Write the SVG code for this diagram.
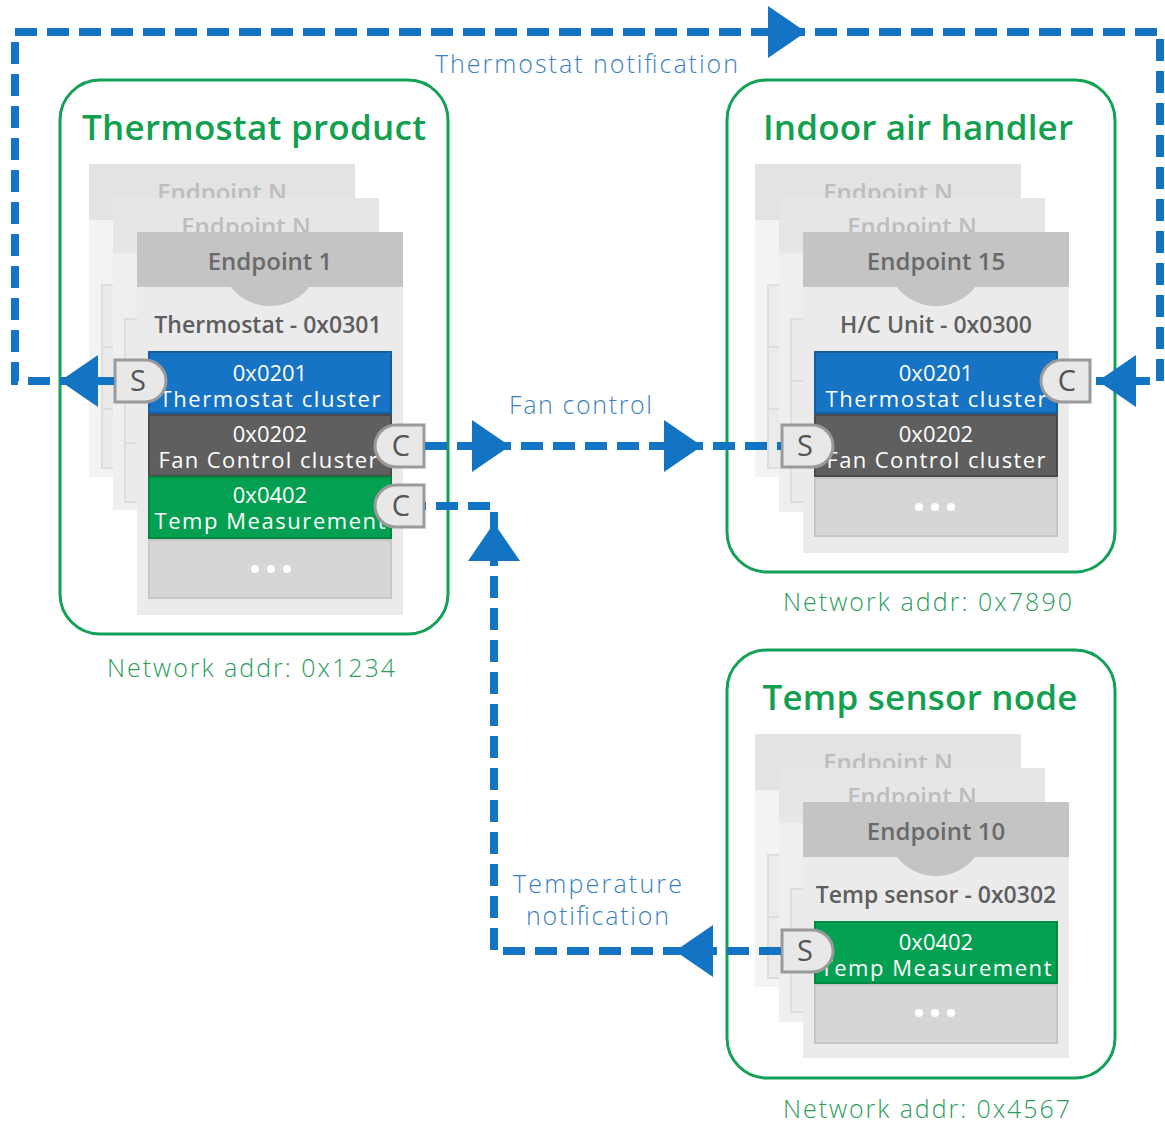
<svg xmlns="http://www.w3.org/2000/svg" width="1165" height="1124" viewBox="0 0 1165 1124">
<style>
.box{fill:none;stroke:#13a155;stroke-width:3}
.title{font-family:"Open Sans","Liberation Sans",sans-serif;font-weight:600;font-size:35px;fill:#12a050;text-anchor:middle}
.l1h{fill:#e3e3e3}.l1b{fill:#f3f3f3}
.l2h{fill:#e6e6e6}.l2b{fill:#efefef}
.fh{fill:#c4c4c4}.fb{fill:#ebebeb}
.strip{fill:#ebebeb;stroke:#dedede;stroke-width:2}
.sep{stroke:#dedede;stroke-width:2}
.ept{font-family:"Open Sans","Liberation Sans",sans-serif;font-weight:600;font-size:24px;fill:#6a6a6a;text-anchor:middle}
.epn{fill:#bdbdbd}
.typ{font-family:"Open Sans","Liberation Sans",sans-serif;font-weight:600;font-size:23px;fill:#5e5e5e;text-anchor:middle}
.cb{fill:#1773c3;stroke:#135fa2;stroke-width:2}
.cg{fill:#5f5f5f;stroke:#4a4a4a;stroke-width:2}
.cn{fill:#04a052;stroke:#03883f;stroke-width:2}
.ct{font-family:"Open Sans","Liberation Sans",sans-serif;font-size:22px;fill:#ffffff;text-anchor:middle}
.dots{fill:#d6d6d6;stroke:#c6c6c6;stroke-width:2}
.dot{fill:#ffffff}
.badge{fill:#e8e8e8;stroke:#9a9a9a;stroke-width:3}
.bt{font-family:"Open Sans","Liberation Sans",sans-serif;font-size:29px;fill:#555555;text-anchor:middle}
.conn{fill:none;stroke:#1474c4;stroke-width:8;stroke-dasharray:22 10}
.ah{fill:#1474c4}
.lbl{font-family:"Open Sans","Liberation Sans",sans-serif;font-weight:300;font-size:25px;fill:#3b7fc0}
.net{font-family:"Open Sans","Liberation Sans",sans-serif;font-weight:300;font-size:25px;fill:#2c9d5a}
</style>
<defs>
<path id="ah" d="M0,0 L-38,-26 L-38,26 Z"/>
</defs>
<rect width="1165" height="1124" fill="#ffffff"/>

<g id="thermostat-product">
<rect class="box" x="60" y="80" width="388" height="554" rx="40"/>
<text class="title" x="254" y="140" textLength="344">Thermostat product</text>
<rect class="l1h" x="89" y="164" width="266" height="56"/>
<rect class="l1b" x="89" y="220" width="266" height="257"/>
<rect class="strip" x="102" y="285" width="242" height="183"/>
<line class="sep" x1="102" y1="347" x2="344" y2="347"/><line class="sep" x1="102" y1="409" x2="344" y2="409"/>
<text class="ept epn" x="222" y="201">Endpoint N</text>
<rect class="l2h" x="113" y="198" width="266" height="55"/>
<rect class="l2b" x="113" y="253" width="266" height="257"/>
<rect class="strip" x="125" y="319" width="242" height="183"/>
<line class="sep" x1="125" y1="381" x2="367" y2="381"/><line class="sep" x1="125" y1="443" x2="367" y2="443"/>
<text class="ept epn" x="246" y="235">Endpoint N</text>
<rect class="fh" x="137" y="232" width="266" height="55"/>
<rect class="fb" x="137" y="287" width="266" height="328"/>
<path class="fh" d="M230,286 A50,50 0 0 0 310,286 Z"/>
<text class="ept" x="270" y="270">Endpoint 1</text>
<text class="typ" x="268" y="333">Thermostat - 0x0301</text>
<rect class="cb" x="149" y="352" width="242" height="61"/>
<text class="ct"><tspan x="270" y="381">0x0201</tspan><tspan x="270" y="407" textLength="221">Thermostat cluster</tspan></text>
<rect class="cg" x="149" y="415" width="242" height="61"/>
<text class="ct"><tspan x="270" y="442">0x0202</tspan><tspan x="268" y="468" textLength="219">Fan Control cluster</tspan></text>
<rect class="cn" x="149" y="477" width="242" height="61"/>
<text class="ct"><tspan x="270" y="503">0x0402</tspan><tspan x="270" y="529" textLength="231">Temp Measurement</tspan></text>
<rect class="dots" x="149" y="540" width="242" height="58"/>
<circle class="dot" cx="255" cy="569" r="4"/><circle class="dot" cx="271" cy="569" r="4"/><circle class="dot" cx="287" cy="569" r="4"/>
<path class="badge" d="M115,360 H145 A21,21 0 0 1 145,402 H115 Z"/>
<text class="bt" x="138" y="391">S</text>
<path class="badge" d="M424,425 H396 A21,21 0 0 0 396,467 H424 Z"/>
<text class="bt" x="401" y="456">C</text>
<path class="badge" d="M424,485 H396 A21,21 0 0 0 396,527 H424 Z"/>
<text class="bt" x="401" y="516">C</text>
<text class="net" x="107" y="677" textLength="288">Network addr: 0x1234</text>
</g>

<g id="indoor-air-handler">
<rect class="box" x="727" y="80" width="388" height="492" rx="40"/>
<text class="title" x="918" y="140" textLength="310">Indoor air handler</text>
<rect class="l1h" x="755" y="164" width="266" height="56"/>
<rect class="l1b" x="755" y="220" width="266" height="257"/>
<rect class="strip" x="768" y="285" width="242" height="183"/>
<line class="sep" x1="768" y1="347" x2="1010" y2="347"/><line class="sep" x1="768" y1="409" x2="1010" y2="409"/>
<text class="ept epn" x="888" y="201">Endpoint N</text>
<rect class="l2h" x="779" y="198" width="266" height="55"/>
<rect class="l2b" x="779" y="253" width="266" height="259"/>
<rect class="strip" x="791" y="319" width="242" height="183"/>
<line class="sep" x1="791" y1="381" x2="1033" y2="381"/><line class="sep" x1="791" y1="443" x2="1033" y2="443"/>
<text class="ept epn" x="912" y="235">Endpoint N</text>
<rect class="fh" x="803" y="232" width="266" height="55"/>
<rect class="fb" x="803" y="287" width="266" height="266"/>
<path class="fh" d="M896,286 A50,50 0 0 0 976,286 Z"/>
<text class="ept" x="936" y="270">Endpoint 15</text>
<text class="typ" x="936" y="333">H/C Unit - 0x0300</text>
<rect class="cb" x="815" y="352" width="242" height="61"/>
<text class="ct"><tspan x="936" y="381">0x0201</tspan><tspan x="936" y="407" textLength="221">Thermostat cluster</tspan></text>
<rect class="cg" x="815" y="415" width="242" height="61"/>
<text class="ct"><tspan x="936" y="442">0x0202</tspan><tspan x="936" y="468" textLength="219">Fan Control cluster</tspan></text>
<rect class="dots" x="815" y="478" width="242" height="58"/>
<circle class="dot" cx="919" cy="507" r="4"/><circle class="dot" cx="935" cy="507" r="4"/><circle class="dot" cx="951" cy="507" r="4"/>
<path class="badge" d="M1090,360 H1062 A21,21 0 0 0 1062,402 H1090 Z"/>
<text class="bt" x="1067" y="391">C</text>
<path class="badge" d="M782,425 H812 A21,21 0 0 1 812,467 H782 Z"/>
<text class="bt" x="805" y="456">S</text>
<text class="net" x="783" y="611" textLength="289">Network addr: 0x7890</text>
</g>

<g id="temp-sensor-node">
<rect class="box" x="727" y="650" width="388" height="428" rx="40"/>
<text class="title" x="920" y="710" textLength="315">Temp sensor node</text>
<rect class="l1h" x="755" y="734" width="266" height="56"/>
<rect class="l1b" x="755" y="790" width="266" height="197"/>
<rect class="strip" x="768" y="855" width="242" height="123"/>
<line class="sep" x1="768" y1="917" x2="1010" y2="917"/>
<text class="ept epn" x="888" y="771">Endpoint N</text>
<rect class="l2h" x="779" y="768" width="266" height="55"/>
<rect class="l2b" x="779" y="823" width="266" height="199"/>
<rect class="strip" x="791" y="889" width="242" height="123"/>
<line class="sep" x1="791" y1="951" x2="1033" y2="951"/>
<text class="ept epn" x="912" y="805">Endpoint N</text>
<rect class="fh" x="803" y="802" width="266" height="55"/>
<rect class="fb" x="803" y="857" width="266" height="201"/>
<path class="fh" d="M896,856 A50,50 0 0 0 976,856 Z"/>
<text class="ept" x="936" y="840">Endpoint 10</text>
<text class="typ" x="936" y="903">Temp sensor - 0x0302</text>
<rect class="cn" x="815" y="922" width="242" height="61"/>
<text class="ct"><tspan x="936" y="950">0x0402</tspan><tspan x="936" y="976" textLength="231">Temp Measurement</tspan></text>
<rect class="dots" x="815" y="985" width="242" height="58"/>
<circle class="dot" cx="919" cy="1013" r="4"/><circle class="dot" cx="935" cy="1013" r="4"/><circle class="dot" cx="951" cy="1013" r="4"/>
<path class="badge" d="M782,930 H812 A21,21 0 0 1 812,972 H782 Z"/>
<text class="bt" x="805" y="961">S</text>
<text class="net" x="783" y="1118" textLength="287">Network addr: 0x4567</text>
</g>

<g id="connectors">
<path class="conn" d="M114,381 H15 V32 H1160 V381 H1092"/>
<use href="#ah" class="ah" transform="translate(60,381) rotate(180)"/>
<use href="#ah" class="ah" transform="translate(806,32)"/>
<use href="#ah" class="ah" transform="translate(1098,381) rotate(180)"/>
<text class="lbl" x="435" y="73" textLength="303">Thermostat notification</text>
<path class="conn" d="M425,446 H781"/>
<use href="#ah" class="ah" transform="translate(510,446)"/>
<use href="#ah" class="ah" transform="translate(702,446)"/>
<text class="lbl" x="509" y="414" textLength="143">Fan control</text>
<path class="conn" d="M781,951 H494 V506 H425"/>
<use href="#ah" class="ah" transform="translate(675,951) rotate(180)"/>
<use href="#ah" class="ah" transform="translate(494,523) rotate(-90)"/>
<text class="lbl"><tspan x="513" y="893" textLength="169">Temperature</tspan><tspan x="526" y="925" textLength="143">notification</tspan></text>
</g>
</svg>
